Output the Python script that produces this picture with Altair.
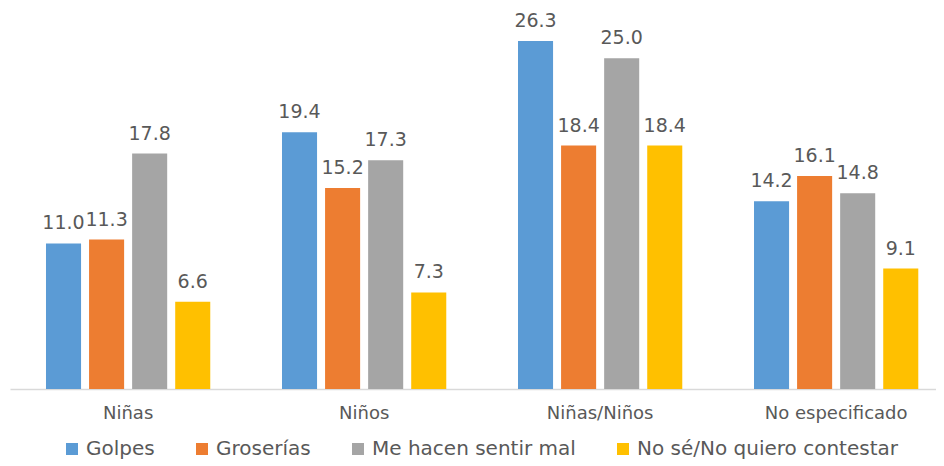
import altair as alt
import pandas as pd

categories = ["Niñas", "Niños", "Niñas/Niños", "No especificado"]
series = ["Golpes", "Groserías", "Me hacen sentir mal", "No sé/No quiero contestar"]
colors = ["#5B9BD5", "#ED7D31", "#A5A5A5", "#FFC000"]
golpes = [11.0, 19.4, 26.3, 14.2]
groserias = [11.3, 15.2, 18.4, 16.1]
sentir_mal = [17.8, 17.3, 25.0, 14.8]
no_se = [6.6, 7.3, 18.4, 9.1]

rows = []
for s, vals in zip(series, [golpes, groserias, sentir_mal, no_se]):
    for c, v in zip(categories, vals):
        rows.append({"cat": c, "serie": s, "valor": v})
df = pd.DataFrame(rows)

FONT = "DejaVu Sans"

x = alt.X("cat:N", sort=categories, title=None,
          scale=alt.Scale(paddingInner=0.27, paddingOuter=0.0968, align=0.70),
          axis=alt.Axis(labelAngle=0, ticks=False, domainColor="#D9D9D9", domainWidth=1.5,
                        labelFont=FONT, labelFontSize=18, labelColor="#595959",
                        labelPadding=15, grid=False))
xo = alt.XOffset("serie:N", sort=series,
                 scale=alt.Scale(paddingInner=0.186, paddingOuter=0.093))
y = alt.Y("valor:Q", scale=alt.Scale(domain=[0, 28.8], nice=False), axis=None)

base = alt.Chart(df).encode(x=x, xOffset=xo, y=y)

bars = base.mark_bar().encode(
    color=alt.Color("serie:N", sort=series,
                    scale=alt.Scale(domain=series, range=colors),
                    legend=alt.Legend(title=None, orient="none", direction="horizontal",
                                      legendX=52, legendY=431,
                                      symbolType="square", symbolSize=144, symbolStrokeWidth=0,
                                      labelFont=FONT, labelFontSize=20, labelColor="#595959",
                                      labelOffset=4, columnPadding=37, labelLimit=400))
)

labels = base.mark_text(baseline="alphabetic", dy=-14, font=FONT, fontSize=19,
                        color="#595959").encode(text=alt.Text("valor:Q", format=".1f"))

chart = (bars + labels).properties(
    width=926, height=381, background="white",
    padding={"left": 2, "top": 0, "right": 0, "bottom": 0}
).configure_view(stroke=None)

chart.save("out.html", embed_options={"renderer": "svg", "actions": False})
